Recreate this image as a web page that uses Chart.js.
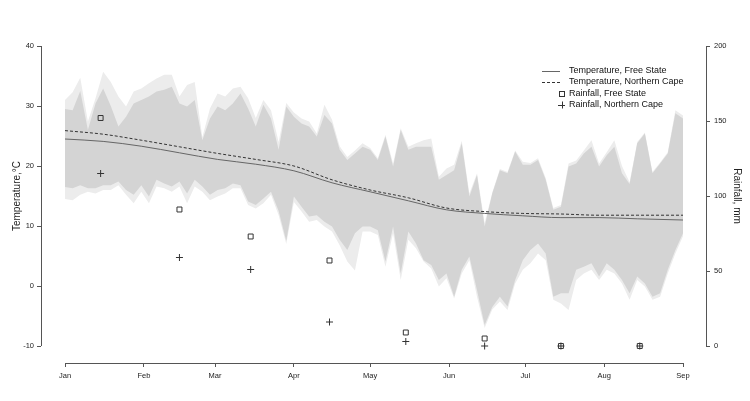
<!DOCTYPE html>
<html>
<head>
<meta charset="utf-8">
<title>Temperature and rainfall</title>
<script src="https://cdn.jsdelivr.net/npm/chart.js"></script>
<style>
  html, body { margin: 0; padding: 0; background: #fff; }
  #wrap { width: 750px; height: 401px; }
</style>
</head>
<body>
<div id="wrap"><canvas id="chart" width="750" height="401"></canvas></div>
<script>
/* ---- data (day 0 = 1 Jan) ---- */

const monthDays   = [0, 31, 59, 90, 120, 151, 181, 212, 243];
const monthLabels = ['Jan', 'Feb', 'Mar', 'Apr', 'May', 'Jun', 'Jul', 'Aug', 'Sep'];
const tempTicks   = [-10, 0, 10, 20, 30, 40];
const rainTicks   = [0, 50, 100, 150, 200];

// daily temperature range, read every 3 days
const bandDays = [0, 3, 6, 9, 12, 15, 18, 21, 24, 27, 30, 33, 36, 39, 42, 45, 48, 51, 54, 57,
  60, 63, 66, 69, 72, 75, 78, 81, 84, 87, 90, 93, 96, 99, 102, 105, 108, 111, 114, 117,
  120, 123, 126, 129, 132, 135, 138, 141, 144, 147, 150, 153, 156, 159, 162, 165, 168, 171, 174, 177,
  180, 183, 186, 189, 192, 195, 198, 201, 204, 207, 210, 213, 216, 219, 222, 225, 228, 231, 234, 237,
  240, 243];

const lightHi = [31.0, 32.3, 34.7, 27.4, 31.3, 35.7, 34.0, 31.6, 29.9, 32.4, 32.9, 33.8, 34.6, 35.2, 35.2, 31.6, 33.5, 34.0, 24.8, 29.6,
  32.1, 31.6, 32.9, 33.2, 31.3, 28.0, 31.0, 29.3, 24.0, 30.5, 28.9, 27.9, 27.4, 25.4, 30.2, 27.7, 23.3, 21.5, 22.6, 23.8,
  23.0, 21.3, 25.2, 20.4, 26.3, 23.2, 23.8, 24.3, 24.6, 18.2, 19.6, 20.2, 24.2, 15.4, 18.8, 10.5, 15.6, 19.5, 19.0, 22.6,
  20.7, 20.5, 21.3, 18.0, 13.0, 13.5, 20.4, 20.9, 22.6, 24.3, 20.4, 22.3, 24.3, 20.0, 17.3, 24.0, 25.6, 19.0, 20.6, 22.3,
  29.3, 28.4];

const darkHi = [29.5, 29.3, 32.5, 26.0, 30.4, 32.9, 30.0, 26.6, 28.2, 30.4, 31.0, 31.6, 32.4, 32.7, 33.2, 30.4, 29.9, 31.0, 24.3, 27.9,
  29.9, 29.3, 30.4, 32.1, 29.6, 26.6, 30.2, 27.9, 22.7, 29.9, 28.2, 27.1, 26.6, 24.9, 28.5, 27.1, 22.7, 21.0, 22.1, 23.2,
  22.7, 21.0, 24.9, 19.9, 26.0, 22.7, 23.2, 23.2, 23.2, 17.7, 18.5, 19.3, 23.8, 14.9, 18.5, 9.9, 15.4, 19.3, 18.8, 22.4,
  20.2, 20.2, 21.0, 17.7, 12.7, 13.2, 19.9, 20.4, 22.1, 23.2, 19.9, 21.8, 23.2, 18.8, 17.0, 23.8, 25.4, 18.8, 20.4, 22.1,
  28.8, 27.9];

const darkLo = [16.5, 16.3, 16.8, 16.3, 16.3, 16.8, 16.8, 17.4, 16.0, 15.2, 16.8, 14.9, 17.7, 17.1, 16.6, 17.4, 15.4, 17.7, 16.6, 15.2,
  16.0, 16.3, 17.1, 16.8, 14.1, 13.5, 14.6, 15.7, 12.5, 7.5, 14.9, 13.2, 11.6, 11.8, 10.7, 9.9, 7.7, 6.0, 8.8, 9.9,
  9.9, 9.3, 4.1, 9.9, 2.1, 9.1, 7.1, 4.3, 3.5, 1.0, 2.1, -1.8, 2.7, 4.9, -0.7, -6.5, -3.5, -1.8, -3.4, 1.0,
  4.3, 6.0, 7.1, 5.4, -1.8, -1.2, -1.2, 2.7, 3.2, 3.8, 1.6, 3.8, 2.7, 1.0, -1.2, 1.6, 0.4, -1.8, -1.2, 2.7,
  6.0, 8.8];

const lightLo = [14.5, 14.3, 15.2, 15.7, 15.4, 16.0, 16.0, 16.8, 15.2, 13.8, 15.7, 13.8, 16.6, 16.3, 15.7, 16.6, 13.8, 16.6, 15.7, 14.3,
  14.9, 15.4, 16.3, 16.3, 13.5, 12.9, 13.8, 15.2, 11.8, 7.0, 14.0, 12.4, 10.7, 11.0, 9.9, 9.1, 6.8, 4.1, 2.6, 9.1,
  9.1, 8.5, 3.2, 8.8, 1.0, 7.7, 6.3, 4.1, 2.9, -0.1, 1.3, -2.1, 2.1, 4.3, -1.8, -7.0, -3.9, -2.6, -4.0, 0.4,
  2.7, 3.8, 5.4, 4.3, -2.3, -2.9, -4.0, 1.0, 2.1, 2.7, 1.0, 2.7, 2.1, 0.4, -2.3, 1.0, -0.1, -2.3, -1.8, 2.1,
  5.4, 8.3];

// smoothed temperature trends
const trendDays = [0, 15, 30, 45, 60, 75, 90, 105, 120, 135, 150, 165, 180, 195, 210, 225, 243];
const tempFS    = [24.5, 24.1, 23.3, 22.2, 21.1, 20.3, 19.2, 17.2, 15.7, 14.2, 12.7, 12.1, 11.7, 11.4, 11.4, 11.2, 11.0];
const tempNC    = [25.9, 25.3, 24.3, 23.2, 22.1, 21.1, 20.0, 17.7, 16.0, 14.7, 13.0, 12.4, 12.1, 12.0, 11.8, 11.8, 11.8];

// monthly rainfall (mm), plotted mid-month
const rainDays = [14, 45, 73, 104, 134, 165, 195, 226];
const rainFS   = [152, 91, 73, 57, 9, 5, 0, 0];
const rainNC   = [115, 59, 51, 16, 3, 0, 0, 0];

const legendLabels = ['Temperature, Free State', 'Temperature, Northern Cape',
                      'Rainfall, Free State', 'Rainfall, Northern Cape'];

/* ---- style ---- */

const FONT   = "'Liberation Sans', Arial, Helvetica, sans-serif";
const AXIS   = '#555';
const TEXT   = '#222';
const DARK   = '#d4d4d4';
const LIGHT  = '#ececec';
const CLEAR  = 'rgba(0,0,0,0)';

const pts = (xs, ys) => xs.map((d, i) => ({ x: d, y: ys[i] }));

// R draws detached axes, so the chart area is a bit larger than the data range
const X_MIN = -9.44, X_MAX = 252.04;
const Y_MIN = -12.83, Y_MAX = 40;
const Y2_MIN = -11.33, Y2_MAX = 200;

const rStyle = {
  id: 'rStyle',
  afterDraw(chart) {
    const { ctx, scales: { x, y, y2 } } = chart;
    const a = v => Math.round(v) + 0.5;
    ctx.save();

    // axis lines, only from first to last tick
    ctx.strokeStyle = AXIS;
    ctx.lineWidth = 1;
    ctx.beginPath();
    ctx.moveTo(a(y.right), y.getPixelForValue(tempTicks[0]));
    ctx.lineTo(a(y.right), y.getPixelForValue(tempTicks[tempTicks.length - 1]));
    ctx.moveTo(a(y2.left), y2.getPixelForValue(rainTicks[0]));
    ctx.lineTo(a(y2.left), y2.getPixelForValue(rainTicks[rainTicks.length - 1]));
    ctx.moveTo(x.getPixelForValue(monthDays[0]), a(x.top));
    ctx.lineTo(x.getPixelForValue(monthDays[monthDays.length - 1]), a(x.top));
    ctx.stroke();

    // axis titles
    const midY = (y.getPixelForValue(tempTicks[0]) + y.getPixelForValue(tempTicks[tempTicks.length - 1])) / 2;
    ctx.fillStyle = TEXT;
    ctx.font = `10px ${FONT}`;
    ctx.textAlign = 'center';
    ctx.textBaseline = 'middle';
    ctx.save();
    ctx.translate(17, midY);
    ctx.rotate(-Math.PI / 2);
    ctx.fillText('Temperature,°C', 0, 0);
    ctx.restore();
    ctx.save();
    ctx.translate(737, midY);
    ctx.rotate(Math.PI / 2);
    ctx.fillText('Rainfall, mm', 0, 0);
    ctx.restore();

    // legend
    const lx0 = 542, lx1 = 560, mx = 561.5, tx = 569, ty = 70.5, dy = 11.5;
    ctx.font = `9px ${FONT}`;
    ctx.textAlign = 'left';
    ctx.fillStyle = '#111';
    legendLabels.forEach((lbl, i) => ctx.fillText(lbl, tx, ty + i * dy));

    ctx.lineWidth = 1;
    ctx.strokeStyle = '#666';
    ctx.beginPath();
    ctx.moveTo(lx0, a(ty)); ctx.lineTo(lx1, a(ty));
    ctx.stroke();
    ctx.strokeStyle = '#333';
    ctx.setLineDash([3, 2]);
    ctx.beginPath();
    ctx.moveTo(lx0, a(ty + dy)); ctx.lineTo(lx1, a(ty + dy));
    ctx.stroke();
    ctx.setLineDash([]);
    ctx.strokeRect(a(mx - 2.5), a(ty + 2 * dy - 2.5), 5, 5);
    ctx.beginPath();
    ctx.moveTo(mx - 3.5, a(ty + 3 * dy)); ctx.lineTo(mx + 3.5, a(ty + 3 * dy));
    ctx.moveTo(a(mx), ty + 3 * dy - 3.5); ctx.lineTo(a(mx), ty + 3 * dy + 3.5);
    ctx.stroke();

    ctx.restore();
  }
};

const tickFont = { family: FONT, size: 7.5 };

new Chart(document.getElementById('chart'), {
  type: 'line',
  data: {
    datasets: [
      // temperature trends
      { data: pts(trendDays, tempFS), borderColor: '#666', borderWidth: 1, pointRadius: 0,
        cubicInterpolationMode: 'monotone', fill: false, order: 1 },
      { data: pts(trendDays, tempNC), borderColor: '#333', borderWidth: 1, borderDash: [3, 2], pointRadius: 0,
        cubicInterpolationMode: 'monotone', fill: false, order: 1 },
      // rainfall
      { data: pts(rainDays, rainFS), yAxisID: 'y2', showLine: false, pointStyle: 'rect', pointRadius: 3.5,
        pointBorderColor: '#333', pointBackgroundColor: CLEAR, pointBorderWidth: 1, order: 0 },
      { data: pts(rainDays, rainNC), yAxisID: 'y2', showLine: false, pointStyle: 'cross', pointRadius: 3.5,
        pointBorderColor: '#333', pointBackgroundColor: CLEAR, pointBorderWidth: 1, order: 0 },
      // temperature ranges (light behind dark)
      { data: pts(bandDays, darkHi), borderColor: CLEAR, borderWidth: 0, pointRadius: 0,
        backgroundColor: DARK, fill: '+1', order: 5 },
      { data: pts(bandDays, darkLo), borderColor: CLEAR, borderWidth: 0, pointRadius: 0, fill: false, order: 5 },
      { data: pts(bandDays, lightHi), borderColor: CLEAR, borderWidth: 0, pointRadius: 0,
        backgroundColor: LIGHT, fill: '+1', order: 6 },
      { data: pts(bandDays, lightLo), borderColor: CLEAR, borderWidth: 0, pointRadius: 0, fill: false, order: 6 }
    ]
  },
  options: {
    responsive: false,
    animation: false,
    events: [],
    layout: { padding: { top: 46, left: 0, right: 0, bottom: 0 } },
    plugins: { legend: { display: false }, tooltip: { enabled: false } },
    scales: {
      x: {
        type: 'linear', position: 'bottom', min: X_MIN, max: X_MAX,
        afterFit: s => { s.height = 38; },
        afterBuildTicks: s => { s.ticks = monthDays.map(v => ({ value: v })); },
        ticks: { autoSkip: false, maxRotation: 0, padding: 4, font: tickFont, color: TEXT,
                 callback: v => monthLabels[monthDays.indexOf(v)] },
        grid: { drawOnChartArea: false, tickLength: 4, color: AXIS },
        border: { display: false }
      },
      y: {
        type: 'linear', position: 'left', min: Y_MIN, max: Y_MAX,
        afterFit: s => { s.width = 41; },
        afterBuildTicks: s => { s.ticks = tempTicks.map(v => ({ value: v })); },
        ticks: { padding: 3, font: tickFont, color: TEXT },
        grid: { drawOnChartArea: false, tickLength: 4, color: AXIS },
        border: { display: false }
      },
      y2: {
        type: 'linear', position: 'right', min: Y2_MIN, max: Y2_MAX,
        afterFit: s => { s.width = 44; },
        afterBuildTicks: s => { s.ticks = rainTicks.map(v => ({ value: v })); },
        ticks: { padding: 4, font: tickFont, color: TEXT },
        grid: { drawOnChartArea: false, tickLength: 4, color: AXIS },
        border: { display: false }
      }
    }
  },
  plugins: [rStyle]
});
</script>
</body>
</html>
